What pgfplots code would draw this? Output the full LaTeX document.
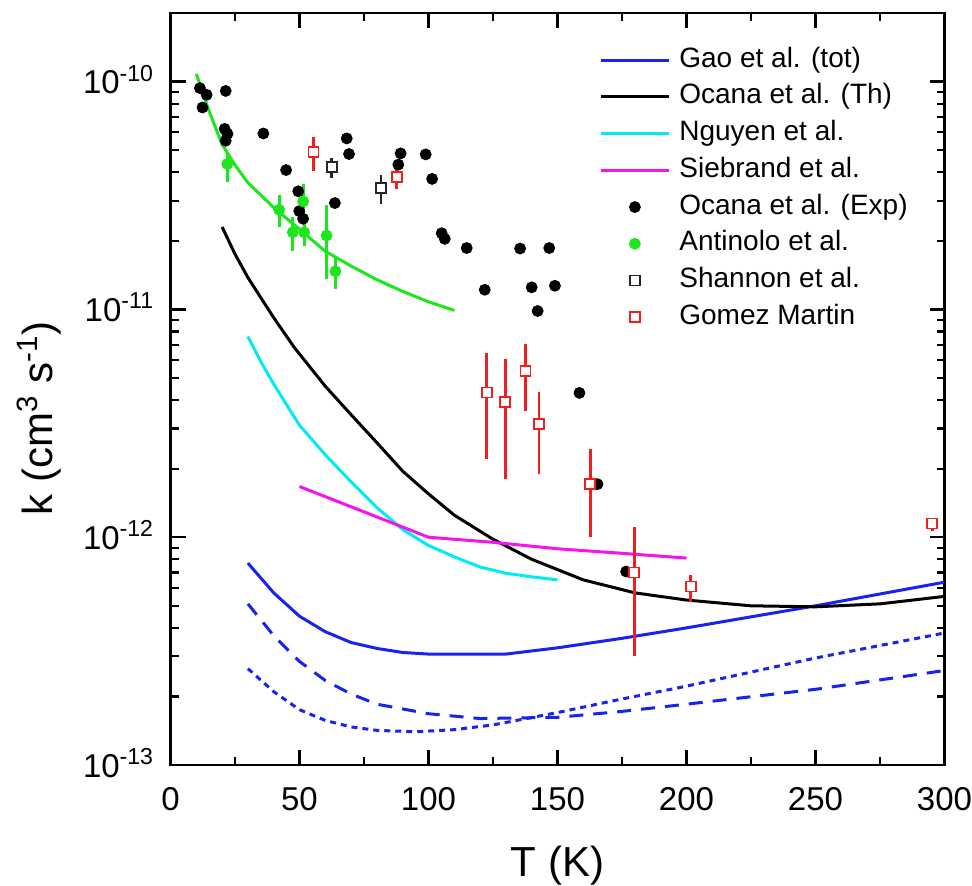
\documentclass[border=0pt]{standalone}
\usepackage{fontspec}
\setmainfont{Liberation Sans}
\usepackage{pgfplots}
\pgfplotsset{compat=1.18}
\usepackage{pgfplotstable}

\definecolor{gaoblue}{RGB}{25,35,240}
\definecolor{antgreen}{RGB}{30,230,30}
\definecolor{ngcyan}{RGB}{0,235,245}
\definecolor{siemag}{RGB}{245,20,235}
\definecolor{gmred}{RGB}{240,30,30}

% theory curves
\pgfplotstableread{
T k
30 7.7e-13
40 5.7e-13
50 4.5e-13
60 3.85e-13
70 3.45e-13
80 3.25e-13
90 3.12e-13
100 3.07e-13
130 3.07e-13
150 3.27e-13
175 3.6e-13
200 4.0e-13
250 5.0e-13
300 6.35e-13
}\gaotot
\pgfplotstableread{
T k
30 5.1e-13
40 3.7e-13
50 2.85e-13
60 2.35e-13
70 2.05e-13
80 1.85e-13
100 1.68e-13
120 1.6e-13
150 1.62e-13
175 1.72e-13
200 1.85e-13
250 2.15e-13
300 2.6e-13
}\gaodash
\pgfplotstableread{
T k
30 2.65e-13
40 2.1e-13
50 1.75e-13
60 1.57e-13
70 1.47e-13
80 1.42e-13
95 1.40e-13
110 1.43e-13
125 1.5e-13
150 1.7e-13
175 1.95e-13
200 2.22e-13
250 2.95e-13
300 3.8e-13
}\gaodot
\pgfplotstableread{
T k
20 2.3e-11
25 1.75e-11
30 1.38e-11
40 9.2e-12
48 6.8e-12
60 4.6e-12
70 3.45e-12
80 2.6e-12
90 1.95e-12
100 1.55e-12
110 1.25e-12
125 9.8e-13
140 8.0e-13
160 6.5e-13
180 5.7e-13
200 5.3e-13
225 5.0e-13
250 4.95e-13
275 5.1e-13
300 5.5e-13
}\ocanath
\pgfplotstableread{
T k
30 7.6e-12
35 5.9e-12
40 4.7e-12
50 3.1e-12
60 2.3e-12
70 1.75e-12
80 1.35e-12
90 1.08e-12
100 9.2e-13
110 8.2e-13
120 7.4e-13
130 6.95e-13
140 6.7e-13
150 6.5e-13
}\nguyen
\pgfplotstableread{
T k
50 1.67e-12
100 1.0e-12
125 9.5e-13
150 8.9e-13
175 8.5e-13
200 8.1e-13
}\siebrand
\pgfplotstableread{
T k
10 1.08e-10
15 7.4e-11
20 5.3e-11
25 4.3e-11
30 3.6e-11
40 2.8e-11
50 2.25e-11
60 1.8e-11
70 1.55e-11
80 1.35e-11
90 1.2e-11
100 1.08e-11
110 9.9e-12
}\antfit

% measurements
\pgfplotstableread{
T k
11.4 9.36e-11
14.0 8.75e-11
12.4 7.7e-11
21.4 9.1e-11
21.0 6.2e-11
22.1 5.9e-11
21.4 5.5e-11
36 5.92e-11
44.8 4.09e-11
49.5 3.3e-11
49.9 2.7e-11
51.4 2.5e-11
63.7 2.93e-11
68.3 5.63e-11
69.2 4.81e-11
89.2 4.84e-11
88.3 4.32e-11
98.9 4.79e-11
101.4 3.74e-11
105.1 2.16e-11
106.3 2.04e-11
114.8 1.86e-11
121.8 1.22e-11
135.5 1.85e-11
140 1.25e-11
142.3 9.84e-12
146.8 1.86e-11
149 1.27e-11
158.5 4.3e-12
165.5 1.71e-12
176.6 7.07e-13
}\ocanaexp
\pgfplotstableread{
T k ep em
22 4.35e-11 0.54e-11 0.74e-11
42.1 2.74e-11 0.45e-11 0.44e-11
47.4 2.18e-11 0.36e-11 0.37e-11
51.4 2.98e-11 0.59e-11 0.59e-11
51.8 2.18e-11 0.27e-11 0.28e-11
60.5 2.11e-11 0.77e-11 0.75e-11
63.9 1.47e-11 0.21e-11 0.24e-11
}\antinolo
\pgfplotstableread{
T k ep em
62.5 4.23e-11 0.38e-11 0.45e-11
81.6 3.41e-11 0.49e-11 0.51e-11
}\shannon
\pgfplotstableread{
T k ep em
55.4 4.92e-11 0.81e-11 0.86e-11
87.7 3.8e-11 0.4e-11 0.42e-11
122.6 4.32e-12 2.12e-12 2.12e-12
129.7 3.93e-12 2.15e-12 2.13e-12
137.6 5.35e-12 1.68e-12 1.76e-12
142.8 3.13e-12 1.22e-12 1.24e-12
162.7 1.71e-12 0.72e-12 0.71e-12
179.8 7.0e-13 4.1e-13 4.0e-13
201.6 6.08e-13 0.76e-13 0.86e-13
295.2 1.15e-12 0.07e-12 0.09e-12
}\gomez

\begin{document}
\begin{tikzpicture}
\begin{axis}[
    name=ax,
    scale only axis,
    width=387pt, height=376pt,
    xmin=0, xmax=300,
    ymode=log, ymin=1e-13, ymax=2e-10,
    xtick={0,50,100,150,200,250,300},
    xticklabels={0,50,100,150,200,250,300},
    minor xtick={25,75,125,175,225,275},
    ytick={1e-13,1e-12,1e-11,1e-10},
    yticklabels={10\textsuperscript{-13},10\textsuperscript{-12},10\textsuperscript{-11},10\textsuperscript{-10}},
    minor ytick={2e-13,3e-13,4e-13,5e-13,6e-13,7e-13,8e-13,9e-13,
                 2e-12,3e-12,4e-12,5e-12,6e-12,7e-12,8e-12,9e-12,
                 2e-11,3e-11,4e-11,5e-11,6e-11,7e-11,8e-11,9e-11,2e-10},
    tick align=inside,
    major tick length=7.5pt, minor tick length=4pt,
    every tick/.style={black, line width=1.1pt},
    axis line style={line width=1.2pt},
    tick label style={font=\fontsize{16.5}{18}\selectfont, inner sep=0pt},
    xticklabel style={anchor=north, yshift=-11pt},
    yticklabel style={anchor=base east, xshift=-8pt, yshift=-6pt},
    xlabel={T (K)},
    ylabel={k (cm\textsuperscript{3} s\textsuperscript{-1})},
    label style={font=\fontsize{21}{24}\selectfont, inner sep=0pt},
    xlabel style={at={(axis description cs:0.5,-0.1476)}, anchor=base},
    ylabel style={at={(axis description cs:-0.153,0.461)}, anchor=base, rotate=0},
    legend image code/.code={\draw[mark repeat=2,mark phase=2,#1] plot coordinates {(0pt,0pt) (17pt,0pt) (34pt,0pt)};},
    legend style={at={(axis description cs:0.5536,0.955)}, anchor=north west,
        draw=none, fill=none, font=\fontsize{14}{16}\selectfont,
        row sep=5.35pt, inner sep=0pt,
        nodes={inner sep=0pt, text height=10pt, text depth=3pt},
        /tikz/every odd column/.append style={column sep=4.5pt}},
    legend cell align=left,
    error bars/error bar style={line width=1.4pt},
]
\addplot[gaoblue, line width=1.5pt] table[x=T,y=k] {\gaotot};
\addlegendentry{Gao et al. (tot)}
\addplot[black, line width=1.5pt] table[x=T,y=k] {\ocanath};
\addlegendentry{Ocana et al. (Th)}
\addplot[ngcyan, line width=1.5pt] table[x=T,y=k] {\nguyen};
\addlegendentry{Nguyen et al.}
\addplot[siemag, line width=1.5pt] table[x=T,y=k] {\siebrand};
\addlegendentry{Siebrand et al.}

\addplot[gaoblue, line width=1.5pt, dash pattern=on 7pt off 5pt, forget plot] table[x=T,y=k] {\gaodash};
\addplot[gaoblue, line width=1.5pt, dash pattern=on 3pt off 2.5pt, forget plot] table[x=T,y=k] {\gaodot};
\addplot[antgreen, line width=1.5pt, forget plot] table[x=T,y=k] {\antfit};

\addplot[only marks, mark=*, mark size=2.75pt, black] table[x=T,y=k] {\ocanaexp};
\addlegendentry{Ocana et al. (Exp)}
\addplot[only marks, mark=*, mark size=2.75pt, antgreen,
    error bars/.cd, y dir=both, y explicit, error mark=none]
    table[x=T,y=k,y error plus=ep,y error minus=em] {\antinolo};
\addlegendentry{Antinolo et al.}
\addplot[only marks, mark=square*, mark size=2.5pt, black!85, mark options={fill=white, line width=0.9pt},
    error bars/.cd, y dir=both, y explicit, error mark=none]
    table[x=T,y=k,y error plus=ep,y error minus=em] {\shannon};
\addlegendentry{Shannon et al.}
\addplot[only marks, mark=square*, mark size=2.5pt, gmred, mark options={fill=white, line width=0.9pt},
    error bars/.cd, y dir=both, y explicit, error mark=none]
    table[x=T,y=k,y error plus=ep,y error minus=em] {\gomez};
\addlegendentry{Gomez Martin}
\end{axis}
\pgfresetboundingbox
\path[use as bounding box] ([shift={(-85.25pt,-60pt)}]ax.south west) rectangle ([shift={(400.75pt,382.5pt)}]ax.south west);
\end{tikzpicture}
\end{document}
